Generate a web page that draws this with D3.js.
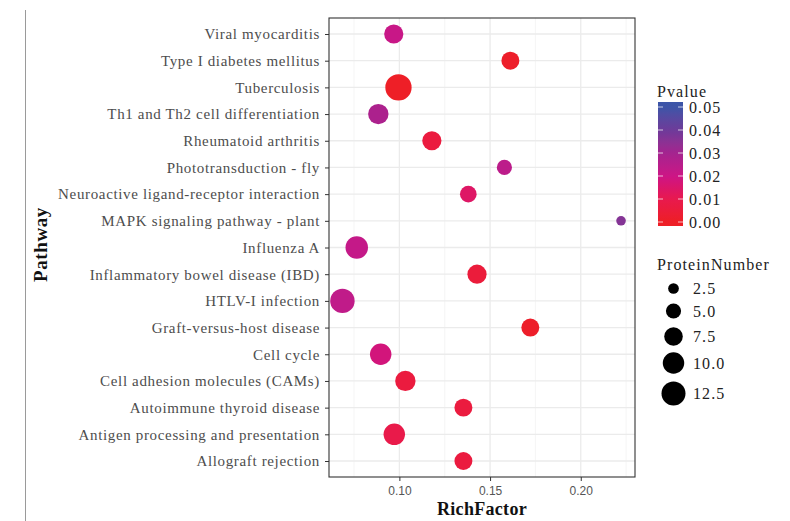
<!DOCTYPE html>
<html>
<head>
<meta charset="utf-8">
<script src="https://cdn.jsdelivr.net/npm/d3@7/dist/d3.min.js"></script>
<style>
  html, body { margin: 0; padding: 0; background: #fff; }
  svg { display: block; }
</style>
</head>
<body>
<svg id="chart" width="790" height="521"></svg>
<script>
// Enriched pathways (top to bottom)
const pathways = [
  "Viral myocarditis",
  "Type I diabetes mellitus",
  "Tuberculosis",
  "Th1 and Th2 cell differentiation",
  "Rheumatoid arthritis",
  "Phototransduction - fly",
  "Neuroactive ligand-receptor interaction",
  "MAPK signaling pathway - plant",
  "Influenza A",
  "Inflammatory bowel disease (IBD)",
  "HTLV-I infection",
  "Graft-versus-host disease",
  "Cell cycle",
  "Cell adhesion molecules (CAMs)",
  "Autoimmune thyroid disease",
  "Antigen processing and presentation",
  "Allograft rejection"
];
const richFactor = [0.0969, 0.1612, 0.0995, 0.0884, 0.1179, 0.1579, 0.1380, 0.2222, 0.0765,
                    0.1428, 0.0686, 0.1722, 0.0897, 0.1033, 0.1353, 0.0972, 0.1353];
const proteinNumber = [8, 7, 15, 9, 8, 5, 6, 2, 11, 8, 13, 7, 10, 9, 7, 10, 7];
const pValue = [0.021, 0.001, 0.0005, 0.028, 0.006, 0.024, 0.014, 0.036, 0.022,
                0.005, 0.023, 0.001, 0.018, 0.006, 0.006, 0.009, 0.006];

const xTicks = [0.10, 0.15, 0.20];
const xMinorTicks = [0.075, 0.125, 0.175, 0.225];
const pTicks = [0.00, 0.01, 0.02, 0.03, 0.04, 0.05];
const sizeTicks = [2.5, 5.0, 7.5, 10.0, 12.5];

const rows = pathways.map((p, i) => ({
  pathway: p, rf: richFactor[i], n: proteinNumber[i], p: pValue[i]
}));

const svg = d3.select("#chart");
const serif = "'Liberation Serif', 'DejaVu Serif', serif";
const sans = "'Liberation Sans', Arial, sans-serif";

const panel = { left: 329, right: 635, top: 18, bottom: 477 };

const x = d3.scaleLinear().domain([0.0612, 0.2299]).range([panel.left, panel.right]);
const y = d3.scalePoint().domain(pathways).range([34, 461]);
const r = d3.scaleSqrt().domain([0, 12.5]).range([0, 12]);
const colour = d3.scaleLinear()
  .domain(pTicks)
  .range(["#ee1f25", "#e8194e", "#cc1586", "#a4238f", "#6c3a99", "#3b55a8"])
  .interpolate(d3.interpolateLab)
  .clamp(true);

// thin frame line at the left edge
svg.append("line")
  .attr("x1", 25.5).attr("x2", 25.5).attr("y1", 10).attr("y2", 521)
  .attr("stroke", "#9a9a9a").attr("stroke-width", 1);

// panel background + grid
const g = svg.append("g");
g.append("rect")
  .attr("x", panel.left).attr("y", panel.top)
  .attr("width", panel.right - panel.left).attr("height", panel.bottom - panel.top)
  .attr("fill", "#fff");

g.selectAll("line.minor").data(xMinorTicks).enter().append("line")
  .attr("x1", d => x(d)).attr("x2", d => x(d))
  .attr("y1", panel.top).attr("y2", panel.bottom)
  .attr("stroke", "#f2f2f2").attr("stroke-width", 0.8);

g.selectAll("line.majx").data(xTicks).enter().append("line")
  .attr("x1", d => x(d)).attr("x2", d => x(d))
  .attr("y1", panel.top).attr("y2", panel.bottom)
  .attr("stroke", "#ebebeb").attr("stroke-width", 1.3);

g.selectAll("line.majy").data(pathways).enter().append("line")
  .attr("x1", panel.left).attr("x2", panel.right)
  .attr("y1", d => y(d)).attr("y2", d => y(d))
  .attr("stroke", "#ebebeb").attr("stroke-width", 1.3);

// points
g.selectAll("circle.pt").data(rows).enter().append("circle")
  .attr("cx", d => x(d.rf))
  .attr("cy", d => y(d.pathway))
  .attr("r", d => r(d.n))
  .attr("fill", d => colour(d.p));

// panel border
g.append("rect")
  .attr("x", panel.left).attr("y", panel.top)
  .attr("width", panel.right - panel.left).attr("height", panel.bottom - panel.top)
  .attr("fill", "none").attr("stroke", "#333").attr("stroke-width", 1.1);

// axes
const xAxis = d3.axisBottom(x).tickValues(xTicks).tickFormat(d3.format(".2f")).tickSize(4).tickPadding(5);
const xg = svg.append("g").attr("transform", `translate(0,${panel.bottom})`).call(xAxis);
xg.select(".domain").remove();
xg.selectAll("line").attr("stroke", "#333");
xg.selectAll("text").attr("font-family", sans).attr("font-size", 12).attr("fill", "#555");

const yAxis = d3.axisLeft(y).tickSize(4).tickPadding(5);
const yg = svg.append("g").attr("transform", `translate(${panel.left},0)`).call(yAxis);
yg.select(".domain").remove();
yg.selectAll("line").attr("stroke", "#333");
yg.selectAll("text").attr("font-family", serif).attr("font-size", 15)
  .attr("letter-spacing", "0.65px").attr("fill", "#4d4d4d");

// axis titles
svg.append("text")
  .attr("x", (panel.left + panel.right) / 2).attr("y", 515)
  .attr("text-anchor", "middle")
  .attr("font-family", serif).attr("font-weight", "bold").attr("font-size", 18)
  .attr("letter-spacing", "0.3px")
  .attr("fill", "#111").text("RichFactor");

svg.append("text")
  .attr("transform", `translate(47,${(panel.top + panel.bottom) / 2 - 3}) rotate(-90)`)
  .attr("text-anchor", "middle")
  .attr("font-family", serif).attr("font-weight", "bold").attr("font-size", 19)
  .attr("letter-spacing", "0.6px")
  .attr("fill", "#111").text("Pathway");

// colour legend
const legendText = sel => sel.attr("font-family", serif).attr("font-size", 16)
  .attr("letter-spacing", "1.1px").attr("fill", "#222");
const leg = svg.append("g");
leg.append("text").attr("x", 657).attr("y", 97).call(legendText).text("Pvalue");

const barX = 658, barW = 25;
const pY = d3.scaleLinear().domain([0, 0.05]).range([222, 107]);
const defs = svg.append("defs");
const grad = defs.append("linearGradient").attr("id", "pgrad")
  .attr("x1", 0).attr("y1", 1).attr("x2", 0).attr("y2", 0);
const barTop = 102, barBot = 226;
d3.range(0, 21).forEach(i => {
  const t = i / 20;
  const py = barBot - t * (barBot - barTop);
  grad.append("stop").attr("offset", t).attr("stop-color", colour(pY.invert(py)));
});
leg.append("rect").attr("x", barX).attr("y", barTop)
  .attr("width", barW).attr("height", barBot - barTop).attr("fill", "url(#pgrad)");
pTicks.forEach(v => {
  leg.append("line").attr("x1", barX).attr("x2", barX + 5).attr("y1", pY(v)).attr("y2", pY(v))
    .attr("stroke", "#fff").attr("stroke-opacity", 0.7);
  leg.append("line").attr("x1", barX + barW - 5).attr("x2", barX + barW).attr("y1", pY(v)).attr("y2", pY(v))
    .attr("stroke", "#fff").attr("stroke-opacity", 0.7);
});
leg.selectAll("text.pt").data(pTicks).enter().append("text")
  .attr("x", 689).attr("y", d => pY(d)).attr("dy", "0.35em").call(legendText)
  .text(d => d3.format(".2f")(d));

// size legend
const sl = svg.append("g");
sl.append("text").attr("x", 657).attr("y", 270).call(legendText).text("ProteinNumber");
const sizeYs = [288.5, 311, 336.5, 363, 393.5];
sizeTicks.forEach((v, i) => {
  sl.append("circle").attr("cx", 673.5).attr("cy", sizeYs[i]).attr("r", r(v)).attr("fill", "#000");
  sl.append("text").attr("x", 693).attr("y", sizeYs[i]).attr("dy", "0.35em").call(legendText)
    .text(d3.format(".1f")(v));
});
</script>
</body>
</html>
